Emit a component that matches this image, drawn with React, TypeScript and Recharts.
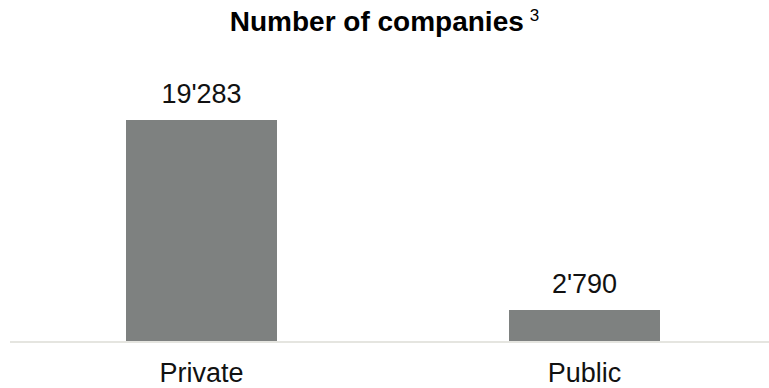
import { BarChart, Bar, XAxis, YAxis, LabelList } from "recharts";

const categories = ["Private", "Public"];
const companies = [19283, 2790];

const data = categories.map((name, i) => ({ name, value: companies[i] }));

const FONT = "'Liberation Sans', Arial, sans-serif";
const BAR = "#7e8180";

// 19283 -> 19'283
const swiss = (v: unknown) =>
  String(v).replace(/\B(?=(\d{3})+(?!\d))/g, "'");

export default function App() {
  return (
    <div
      style={{
        position: "fixed",
        left: 0,
        top: 0,
        width: 769,
        height: 388,
        overflow: "hidden",
        background: "#fff",
        fontFamily: FONT,
      }}
    >
      <div
        style={{
          height: 40,
          lineHeight: "44px",
          textAlign: "center",
          fontSize: 28,
          fontWeight: 700,
          color: "#000",
          whiteSpace: "nowrap",
        }}
      >
        Number of companies
        <span
          style={{
            fontSize: 17,
            fontWeight: 400,
            marginLeft: 6,
            position: "relative",
            top: -10,
          }}
        >
          3
        </span>
      </div>
      <BarChart
        width={786}
        height={348}
        data={data}
        margin={{ top: 6, right: 10, left: 10, bottom: 0 }}
      >
        <XAxis
          dataKey="name"
          height={46}
          tickLine={false}
          tickMargin={15}
          axisLine={{ stroke: "#e5e5e0", strokeWidth: 2 }}
          tick={{ fontSize: 27, fill: "#111", fontFamily: FONT }}
        />
        <YAxis hide domain={[0, 25711]} />
        <Bar dataKey="value" fill={BAR} barSize={151} isAnimationActive={false}>
          <LabelList
            dataKey="value"
            position="top"
            offset={17}
            formatter={swiss}
            style={{ fontSize: 27, fill: "#111", fontFamily: FONT }}
          />
        </Bar>
      </BarChart>
    </div>
  );
}
